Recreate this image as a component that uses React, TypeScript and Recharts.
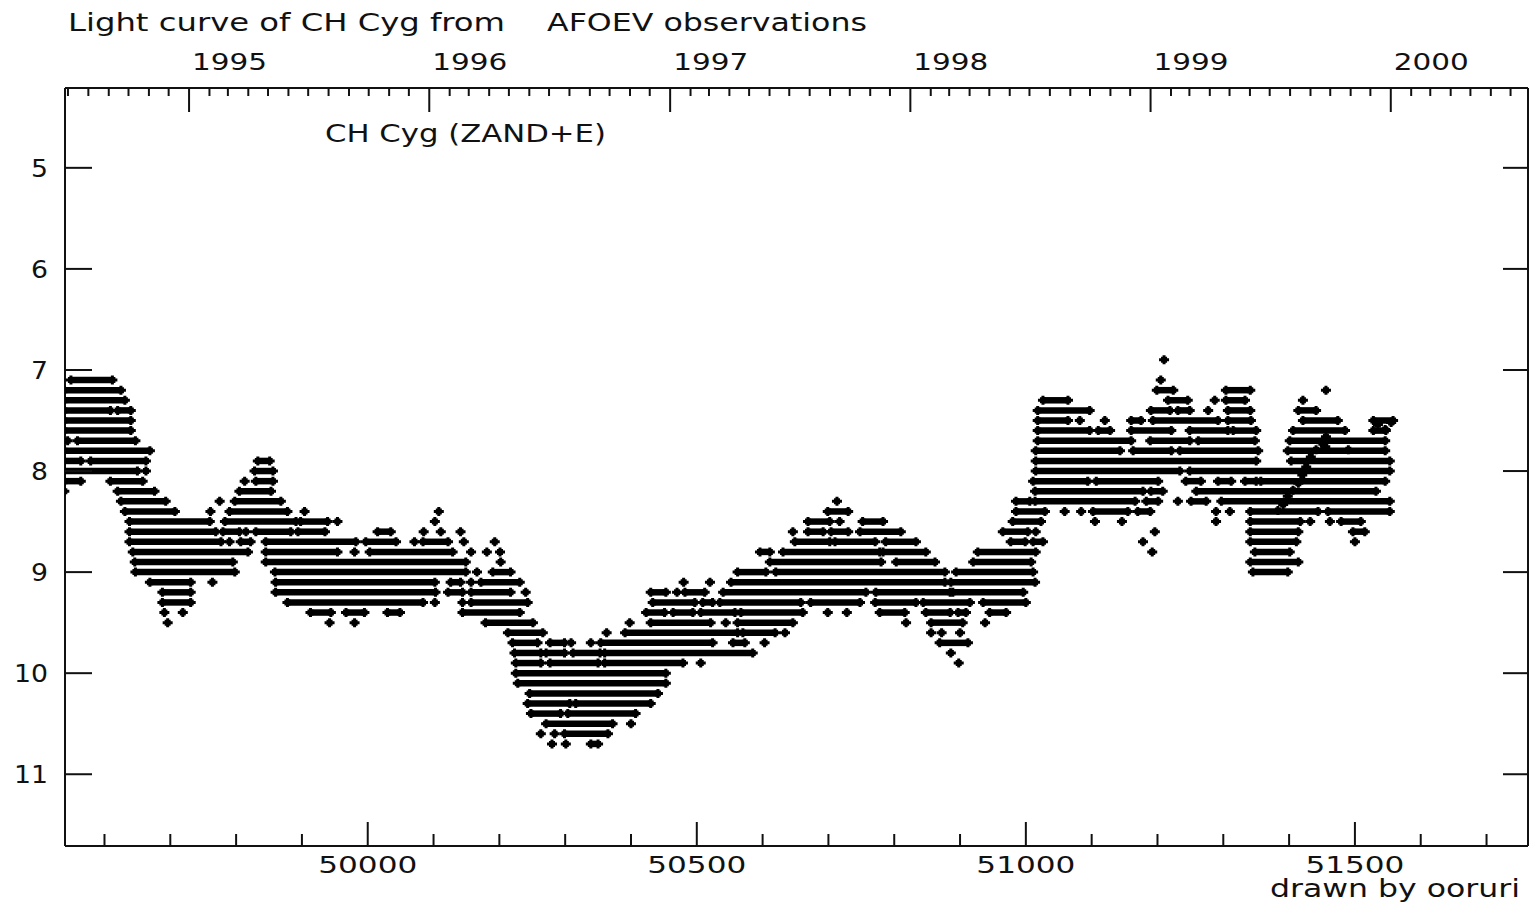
import React from 'react';
import { ScatterChart, Scatter, XAxis, YAxis, ErrorBar } from 'recharts';

const W = 1531;
const H = 904;
const INK = '#111';
const FONT = '"DejaVu Sans", Verdana, sans-serif';

// Visual estimates, one row per magnitude step: a number is a single estimate (JD - 2400000),
// a pair is a dense run of consecutive estimates [first JD, last JD].
type Run = number | [number, number];
const magnitudeRows: [number, Run[]][] = [
  [6.9, [51210]],
  [7.1, [[49549, 49612], 51205]],
  [7.2, [[49539, 49625], [51199, 51224], [51304, 51341], 51456]],
  [7.3, [[49539, 49631], [51026, 51064], [51216, 51246], 51287, [51304, 51333], 51421]],
  [7.4, [[49539, 49609], [49620, 49640], [51018, 51097], [51190, 51219], [51231, 51249], 51277, [51307, 51341], [51414, 51441]]],
  [7.5, [[49539, 49640], [51018, 51064], 51082, 51120, [51160, 51175], [51193, 51292], [51307, 51342], [51421, 51474], [51528, 51558]]],
  [7.6, [[49539, 49640], [51018, 51097], [51110, 51128], [51160, 51221], [51249, 51307], [51315, 51350], [51406, 51485], [51528, 51547]]],
  [7.7, [49544, [49559, 49647], [51018, 51160], [51189, 51249], [51262, 51348], [51401, 51546]]],
  [7.8, [[49539, 49669], [51015, 51143], [51163, 51221], [51234, 51353], [51398, 51546]]],
  [7.9, [[49539, 49564], [49579, 49663], [49833, 49851], [51015, 51350], [51403, 51553]]],
  [8.0, [[49539, 49650], 49663, [49828, 49856], [51015, 51234], [51249, 51553]]],
  [8.1, [[49539, 49564], [49609, 49658], 49813, [49830, 49856], [51011, 51094], [51107, 51201], [51243, 51266], [51292, 51312], [51333, 51350], [51357, 51546]]],
  [8.2, [49539, [49620, 49676], [49805, 49853], [51014, 51178], [51190, 51208], [51259, 51532]]],
  [8.3, [[49625, 49693], 49775, [49798, 49868], 50713, [50985, 51006], [51014, 51166], [51183, 51201], 51231, [51251, 51274], [51297, 51553]]],
  [8.4, [[49631, 49707], 49761, [49790, 49878], 49904, 50108, [50699, 50730], [50985, 51029], 51059, 51084, [51102, 51155], [51170, 51189], 51289, 51310, [51341, 51444], [51459, 51553]]],
  [8.5, [[49638, 49760], [49783, 49891], [49898, 49939], 49954, 50102, [50669, 50702], 50717, [50752, 50783], [50980, 51023], 51105, 51146, 51289, [51341, 51417], 51432, 51462, [51479, 51509]]],
  [8.6, [[49638, 49769], [49780, 49805], 49815, [49830, 49883], [49894, 49935], [50015, 50035], 50085, 50111, 50141, 50646, [50669, 50692], [50704, 50730], [50748, 50810], [50965, 51003], 51015, 51196, [51341, 51414], [51497, 51515]]],
  [8.7, [[49638, 49777], 49790, [49807, 49822], [49845, 49982], [49997, 50043], 50071, [50084, 50122], 50146, 50193, [50649, 50702], [50710, 50771], [50787, 50833], [50977, 50999], [51011, 51026], 51178, [51341, 51411], 51500]],
  [8.8, [[49643, 49818], [49845, 49954], 49980, [50003, 50129], 50157, 50181, 50201, [50596, 50611], [50631, 50778], [50783, 50848], [50927, 51015], 51192, [51348, 51401]]],
  [8.9, [[49646, 49795], [49845, 50149], 50202, [50611, 50780], [50803, 50862], [50920, 51008], [51341, 51414]]],
  [9.0, [[49647, 49798], [49859, 50149], 50166, [50190, 50217], [50562, 50605], [50620, 50877], [50894, 51011], [51345, 51398]]],
  [9.1, [[49669, 49731], 49764, [49860, 50102], [50126, 50141], 50157, [50172, 50231], 50480, 50520, [50552, 50877], [50886, 51014]]],
  [9.2, [[49688, 49731], [49860, 50103], [50122, 50144], [50157, 50217], 50240, [50430, 50453], 50470, [50482, 50512], [50540, 50757], [50772, 50885], [50889, 50996]]],
  [9.3, [[49688, 49731], [49878, 50084], 50102, 50144, [50157, 50243], [50433, 50497], [50509, 50524], [50535, 50658], [50673, 50748], [50771, 50833], [50844, 50915], [50935, 51000]]],
  [9.4, [49691, 49719, [49913, 49944], [49967, 49995], [50030, 50049], [50144, 50231], [50423, 50451], [50464, 50494], [50506, 50558], [50567, 50661], 50699, 50728, [50778, 50816], [50848, 50885], [50897, 50909], [50945, 50970]]],
  [9.5, [49696, 49942, 49980, [50179, 50251], 50398, [50430, 50521], 50544, [50562, 50646], 50818, [50856, 50904], 50938]],
  [9.6, [[50213, 50266], 50363, [50391, 50562], [50570, 50619], 50634, 50856, 50872, 50900]],
  [9.7, [[50220, 50258], [50277, 50299], 50309, 50339, [50354, 50524], [50555, 50573], 50603, [50869, 50912]]],
  [9.8, [[50223, 50263], [50271, 50299], [50312, 50353], [50360, 50585], 50886]],
  [9.9, [[50225, 50263], [50277, 50350], [50360, 50479], 50506, 50898]],
  [10.0, [[50225, 50453]]],
  [10.1, [[50228, 50453]]],
  [10.2, [[50246, 50441]]],
  [10.3, [[50243, 50307], [50316, 50430]]],
  [10.4, [[50248, 50293], [50304, 50407]]],
  [10.5, [[50271, 50372], 50400]],
  [10.6, [50263, 50284, [50299, 50365]]],
  [10.7, [50280, 50301, [50339, 50350]]],
];

// Finer (non-quantised) measurements in 1999 [JD - 2400000, magnitude]
const finePoints: [number, number][] = [
  [51383, 8.39], [51391, 8.33], [51398, 8.25], [51406, 8.19], [51414, 8.12], [51420, 8.04],
  [51426, 7.96], [51433, 7.86], [51441, 7.79], [51449, 7.72], [51455, 7.76], [51456, 7.66],
  [51490, 7.79], [51535, 7.54], [51546, 7.59], [51555, 7.52],
];

const magnitudeTicks = [5, 6, 7, 8, 9, 10, 11];
const jdLabels = [50000, 50500, 51000, 51500];
const jdMinorTicks = [49600, 49700, 49800, 49900, 50000, 50100, 50200, 50300, 50400, 50500, 50600, 50700, 50800, 50900, 51000, 51100, 51200, 51300, 51400, 51500, 51600, 51700];
const yearLabels = [1995, 1996, 1997, 1998, 1999, 2000];

const JD_DOMAIN: [number, number] = [49540, 51763];
const YEAR_DOMAIN: [number, number] = [49530, 51753];
const MAG_DOMAIN: [number, number] = [4.21, 11.71];

// month starts (JD - 2400000) for the calendar axis
const monthTicks: number[] = [];
const januaryTicks: Record<number, number> = {};
for (let y = 1994; y <= 2000; y++) {
  for (let m = 0; m < 12; m++) {
    const jd = Date.UTC(y, m, 1) / 86400000 + 40587.5;
    if (jd >= YEAR_DOMAIN[0] && jd <= YEAR_DOMAIN[1]) {
      monthTicks.push(jd);
      if (m === 0 && yearLabels.includes(y)) januaryTicks[jd] = y;
    }
  }
}

const runStarts = magnitudeRows.flatMap(([mag, runs]) =>
  runs.map((r) => {
    const a = Array.isArray(r) ? r[0] : r;
    const b = Array.isArray(r) ? r[1] : r;
    return { x: a, y: mag, span: [0, b - a] };
  })
);
const runEnds = magnitudeRows.flatMap(([mag, runs]) =>
  runs.filter((r) => Array.isArray(r)).map((r) => ({ x: (r as [number, number])[1], y: mag }))
);
const fineData = finePoints.map(([x, y]) => ({ x, y }));

const Plus = (props: any) => {
  const { cx, cy } = props;
  if (cx == null || cy == null || isNaN(cx) || isNaN(cy)) return null;
  return (
    <path
      d={`M${cx - 5},${cy - 1.5}h10v3h-10z M${cx - 1.5},${cy - 4.5}h3v9h-3z M${cx - 3},${cy - 3}h6v6h-6z`}
      fill="#000"
    />
  );
};

const BottomTick = (p: any) => {
  const v = p.payload?.value;
  const major = jdLabels.includes(v);
  return (
    <g>
      <line x1={p.x} x2={p.x} y1={p.y} y2={p.y - (major ? 24 : 12)} stroke={INK} strokeWidth={2} />
      {major && (
        <text x={p.x} y={p.y + 27} textAnchor="middle" fontFamily={FONT} fontSize={23} fill={INK}
          textLength={99} lengthAdjust="spacingAndGlyphs">{v}</text>
      )}
    </g>
  );
};

const TopTick = (p: any) => {
  const v = p.payload?.value;
  const year = januaryTicks[v];
  const major = year !== undefined;
  return (
    <g>
      <line x1={p.x} x2={p.x} y1={p.y} y2={p.y + (major ? 24 : 8)} stroke={INK} strokeWidth={2} />
      {major && (
        <text x={p.x + 3} y={p.y - 18} textAnchor="start" fontFamily={FONT} fontSize={23} fill={INK}
          textLength={75} lengthAdjust="spacingAndGlyphs">{year}</text>
      )}
    </g>
  );
};

const LeftTick = (p: any) => {
  const v = p.payload?.value;
  const s = String(v);
  return (
    <g>
      <line x1={p.x} x2={p.x + 27} y1={p.y} y2={p.y} stroke={INK} strokeWidth={2} />
      <text x={p.x - 17} y={p.y + 9} textAnchor="end" fontFamily={FONT} fontSize={24} fill={INK}
        textLength={s.length * 17} lengthAdjust="spacingAndGlyphs">{s}</text>
    </g>
  );
};

const RightTick = (p: any) => (
  <line x1={p.x} x2={p.x - 25} y1={p.y} y2={p.y} stroke={INK} strokeWidth={2} />
);

const axisLine = { stroke: INK, strokeWidth: 2 };

export default function App() {
  return (
    <div style={{ position: 'absolute', left: 0, top: 0, width: W, height: H, background: '#fff' }}>
      <ScatterChart width={W} height={H} margin={{ top: 58, right: 0, bottom: 18, left: 0 }}>
        <XAxis xAxisId="jd" dataKey="x" type="number" domain={JD_DOMAIN} allowDataOverflow
          ticks={jdMinorTicks} interval={0} height={40} tickSize={0} tickMargin={0}
          tickLine={false} axisLine={axisLine} tick={(p: any) => <BottomTick {...p} />} />
        <XAxis xAxisId="year" orientation="top" dataKey="x" type="number" domain={YEAR_DOMAIN} allowDataOverflow
          ticks={monthTicks} interval={0} height={30} tickSize={0} tickMargin={0}
          tickLine={false} axisLine={axisLine} tick={(p: any) => <TopTick {...p} />} />
        <YAxis yAxisId="mag" dataKey="y" type="number" reversed domain={MAG_DOMAIN} allowDataOverflow
          ticks={magnitudeTicks} interval={0} width={65} tickSize={0} tickMargin={0}
          tickLine={false} axisLine={axisLine} tick={(p: any) => <LeftTick {...p} />} />
        <YAxis yAxisId="magR" orientation="right" dataKey="y" type="number" reversed domain={MAG_DOMAIN} allowDataOverflow
          ticks={magnitudeTicks} interval={0} width={3} tickSize={0} tickMargin={0}
          tickLine={false} axisLine={axisLine} tick={(p: any) => <RightTick {...p} />} />
        <Scatter xAxisId="jd" yAxisId="mag" data={runStarts} shape={Plus} isAnimationActive={false}>
          <ErrorBar dataKey="span" direction="x" width={0} stroke="#000" strokeWidth={6.5} isAnimationActive={false} />
        </Scatter>
        <Scatter xAxisId="jd" yAxisId="mag" data={runEnds} shape={Plus} isAnimationActive={false} />
        <Scatter xAxisId="jd" yAxisId="mag" data={fineData} shape={Plus} isAnimationActive={false} />
        <Scatter xAxisId="year" yAxisId="magR" data={[]} isAnimationActive={false} />
      </ScatterChart>
      <svg width={W} height={H} style={{ position: 'absolute', left: 0, top: 0, pointerEvents: 'none' }}>
        <g fontFamily={FONT} fill={INK} fontSize={24}>
          <text x={68} y={31} textLength={437} lengthAdjust="spacingAndGlyphs">Light curve of CH Cyg from</text>
          <text x={547} y={31} textLength={320} lengthAdjust="spacingAndGlyphs">AFOEV observations</text>
          <text x={325} y={142} textLength={281} lengthAdjust="spacingAndGlyphs">CH Cyg (ZAND+E)</text>
          <text x={1270} y={897} textLength={250} lengthAdjust="spacingAndGlyphs">drawn by ooruri</text>
        </g>
      </svg>
    </div>
  );
}
